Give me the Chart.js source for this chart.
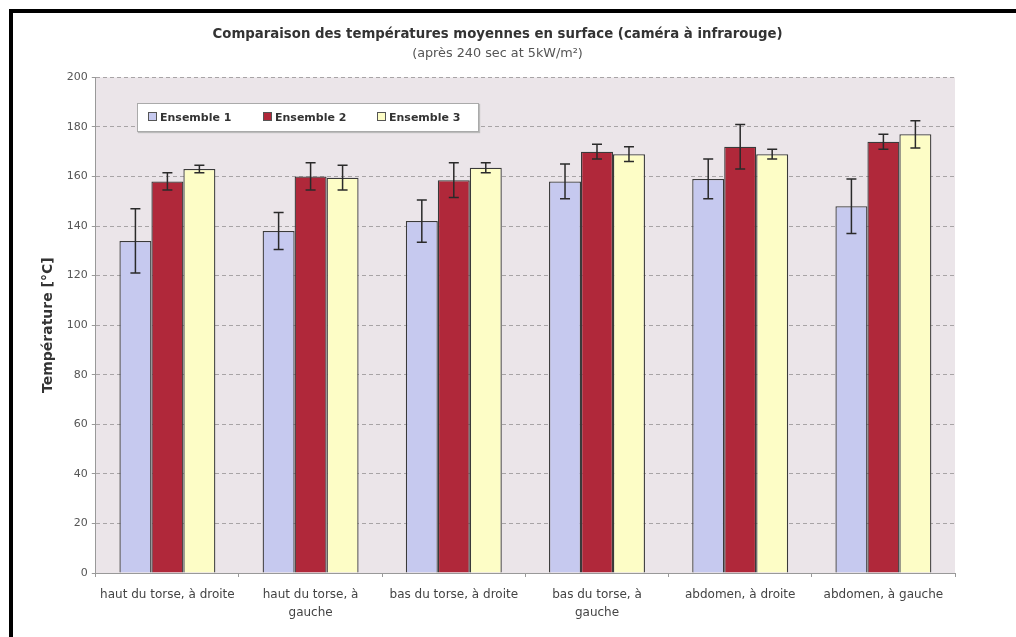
<!DOCTYPE html>
<html>
<head>
<meta charset="utf-8">
<script src="https://cdn.jsdelivr.net/npm/chart.js@4"></script>
<style>
  body { margin: 0; background: #fff; }
  #wrap { position: absolute; left: 0; top: 0; width: 1016px; height: 637px; }
  #frame { position: absolute; left: 9px; top: 9px; width: 1010px; height: 640px;
           border-top: 4px solid #000; border-left: 4px solid #000; pointer-events: none; }
  #legende { position: absolute; left: 137px; top: 103px; width: 340px; height: 27px;
             background: #fff; border: 1px solid #aaa; box-shadow: 1px 1px 1px #bbb;
             font: bold 11px "DejaVu Sans", sans-serif; color: #333; }
  #legende span.it { position: absolute; top: 7px; white-space: nowrap; }
  #legende i { display: inline-block; width: 7px; height: 7px; border: 1px solid #555;
               margin-right: 3px; vertical-align: 0px; }
</style>
</head>
<body>
<div id="wrap"><canvas id="chart" width="1016" height="637"></canvas></div>
<div id="legende"></div>
<div id="frame"></div>
<script>
// Données
const categories = [
    ['haut du torse, à droite'],
    ['haut du torse, à', 'gauche'],
    ['bas du torse, à droite'],
    ['bas du torse, à', 'gauche'],
    ['abdomen, à droite'],
    ['abdomen, à gauche']
];
const seriesNames = ['Ensemble 1', 'Ensemble 2', 'Ensemble 3'];
const ens1 = [134, 138, 142, 158, 159, 148];
const ens1Err = [13, 7.5, 8.5, 7, 8, 11];
const ens2 = [158, 160, 158.5, 170, 172, 174];
const ens2Err = [3.5, 5.5, 7, 3, 9, 3];
const ens3 = [163, 159.5, 163.5, 169, 169, 177];
const ens3Err = [1.5, 5, 2, 3, 2, 5.5];
const yTicks = [0, 20, 40, 60, 80, 100, 120, 140, 160, 180, 200];

const couleurs = ['#c6c9ef', '#b0283a', '#fdfdc6'];
const erreurs = [ens1Err, ens2Err, ens3Err];
const police = 'DejaVu Sans';

// Légende (boîte blanche dans la zone du graphique)
const leg = document.getElementById('legende');
const legX = [10, 125, 239];
seriesNames.forEach(function (nom, i) {
    const s = document.createElement('span');
    s.className = 'it';
    s.style.left = legX[i] + 'px';
    s.innerHTML = '<i style="background:' + couleurs[i] + '"></i>' + nom;
    leg.appendChild(s);
});

// fond gris rosé de la zone de tracé
const fondPlugin = {
    id: 'fond',
    beforeDraw(chart) {
        const a = chart.chartArea, ctx = chart.ctx;
        ctx.save();
        ctx.fillStyle = '#ebe5e9';
        ctx.fillRect(a.left, a.top, a.right - a.left, a.bottom - a.top);
        ctx.restore();
    }
};

// barres d'erreur
const erreurPlugin = {
    id: 'erreurs',
    afterDatasetsDraw(chart) {
        const ctx = chart.ctx, y = chart.scales.y;
        ctx.save();
        ctx.strokeStyle = '#2a2a2a';
        ctx.lineWidth = 1.5;
        chart.data.datasets.forEach(function (ds, i) {
            const meta = chart.getDatasetMeta(i);
            meta.data.forEach(function (bar, j) {
                const v = ds.data[j], e = erreurs[i][j];
                const yh = y.getPixelForValue(v + e), yb = y.getPixelForValue(v - e);
                ctx.beginPath();
                ctx.moveTo(bar.x, yh); ctx.lineTo(bar.x, yb);
                ctx.moveTo(bar.x - 5, yh); ctx.lineTo(bar.x + 5, yh);
                ctx.moveTo(bar.x - 5, yb); ctx.lineTo(bar.x + 5, yb);
                ctx.stroke();
            });
        });
        ctx.restore();
    }
};

const ctx = document.getElementById('chart').getContext('2d');
new Chart(ctx, {
    type: 'bar',
    data: {
        labels: categories,
        datasets: [
            { label: seriesNames[0], data: ens1, backgroundColor: couleurs[0] },
            { label: seriesNames[1], data: ens2, backgroundColor: couleurs[1] },
            { label: seriesNames[2], data: ens3, backgroundColor: couleurs[2] }
        ]
    },
    options: {
        responsive: false,
        animation: false,
        layout: { padding: { left: 40, right: 61, top: 27, bottom: 6 } },
        datasets: {
            bar: { barPercentage: 1, categoryPercentage: 0.67, borderColor: '#3a3a3a', borderWidth: 1.3 }
        },
        plugins: {
            legend: { display: false },
            tooltip: { enabled: false },
            title: {
                display: true,
                text: 'Comparaison des températures moyennes en surface (caméra à infrarouge)',
                color: '#333',
                font: { family: police, size: 13.3, weight: 'bold' },
                padding: { top: 0, bottom: 3 }
            },
            subtitle: {
                display: true,
                text: '(après 240 sec at 5kW/m²)',
                color: '#555',
                font: { family: police, size: 12.8 },
                padding: { top: 0, bottom: 16 }
            }
        },
        scales: {
            x: {
                grid: { offset: true, drawOnChartArea: false, drawTicks: true, tickLength: 4, color: '#999' },
                border: { color: '#999' },
                ticks: { color: '#444', font: { family: police, size: 12, lineHeight: 1.5 }, maxRotation: 0, padding: 9 }
            },
            y: {
                min: 0,
                max: 200,
                afterBuildTicks(axis) { axis.ticks = yTicks.map(function (v) { return { value: v }; }); },
                grid: { color: '#a8a4a6', tickLength: 4, tickColor: '#999' },
                border: { color: '#999', dash: [4, 3] },
                ticks: { color: '#555', font: { family: police, size: 11 }, padding: 4 },
                title: {
                    display: true,
                    text: 'Température [°C]',
                    color: '#333',
                    font: { family: police, size: 14, weight: 'bold' },
                    padding: { top: 0, bottom: 6 }
                }
            }
        }
    },
    plugins: [fondPlugin, erreurPlugin]
});
</script>
</body>
</html>
